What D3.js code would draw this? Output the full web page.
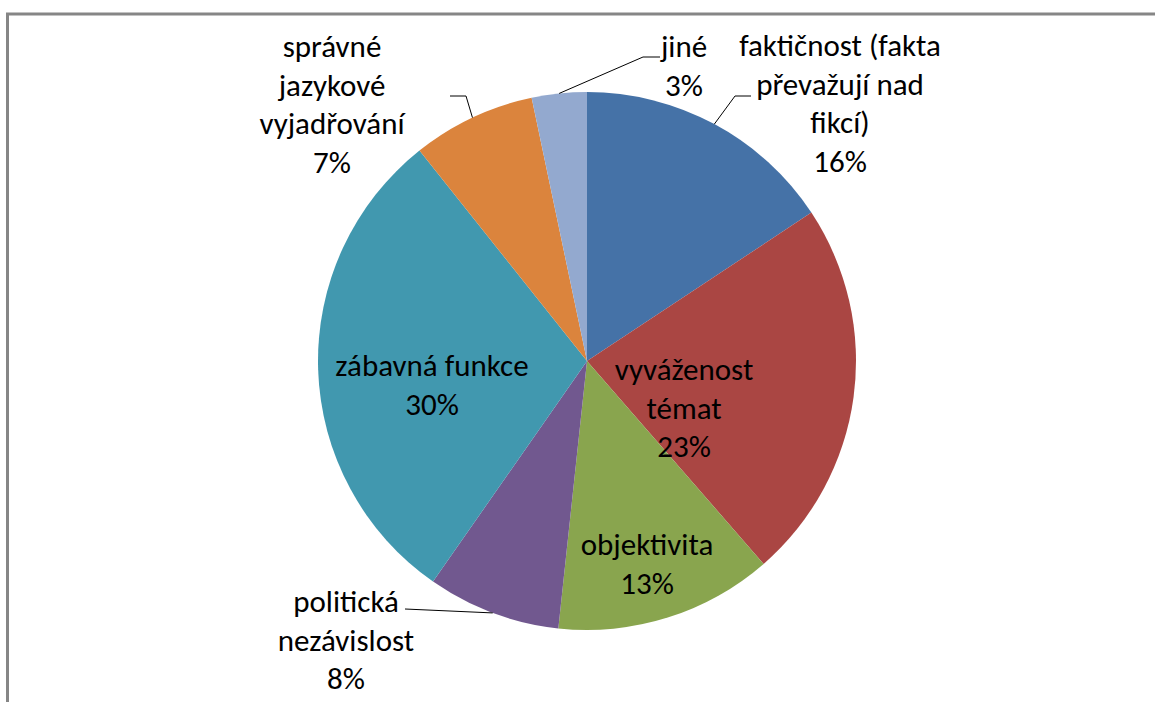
<!DOCTYPE html>
<html>
<head>
<meta charset="utf-8">
<script src="https://cdn.jsdelivr.net/npm/d3@7/dist/d3.min.js"></script>
<style>
  html, body { margin: 0; padding: 0; background: #fff; }
  svg { display: block; }
</style>
</head>
<body>
<svg id="chart" width="1155" height="702"></svg>
<script>
// ---- data ----
const categories = [
  "faktičnost (fakta převažují nad fikcí)",
  "vyváženost témat",
  "objektivita",
  "politická nezávislost",
  "zábavná funkce",
  "správné jazykové vyjadřování",
  "jiné"
];
const values = [15.7, 22.9, 13.1, 8.0, 29.6, 7.4, 3.3];
const colors = ["#4572A7", "#AA4643", "#89A54E", "#71588F", "#4198AF", "#DB843D", "#93A9CF"];
const labelLines = [
  ["faktičnost (fakta", "převažují nad", "fikcí)"],
  ["vyváženost", "témat"],
  ["objektivita"],
  ["politická", "nezávislost"],
  ["zábavná funkce"],
  ["správné", "jazykové", "vyjadřování"],
  ["jiné"]
];

// ---- layout (positions only) ----
const W = 1155, H = 702;
const cx = 587, cy = 361, R = 269;
const lineH = 38.5;
const labelPos = [
  { x: 840, y: 56,  leader: [[735, 96], [751, 96]] },
  { x: 684, y: 380 },
  { x: 647, y: 555 },
  { x: 346, y: 612, leader: [[405, 609]] },
  { x: 432, y: 376 },
  { x: 332, y: 57,  leader: [[466, 96], [450, 96]] },
  { x: 684, y: 57,  leader: [[643, 57], [660, 57]] }
];

const svg = d3.select("#chart");

// frame
svg.append("path")
  .attr("d", `M7.5,${H} L7.5,14 L${W},14`)
  .attr("fill", "none")
  .attr("stroke", "#868686")
  .attr("stroke-width", 3);

const data = categories.map((c, i) => ({ name: c, value: values[i], i }));
const total = d3.sum(values);
const pie = d3.pie().value(d => d.value).sort(null);
const arcs = pie(data);
const arc = d3.arc().innerRadius(0).outerRadius(R);

const g = svg.append("g").attr("transform", `translate(${cx},${cy})`);
g.selectAll("path.slice")
  .data(arcs)
  .join("path")
  .attr("class", "slice")
  .attr("d", arc)
  .attr("fill", d => colors[d.data.i]);

// leader lines
arcs.forEach(a => {
  const lp = labelPos[a.data.i];
  if (!lp.leader) return;
  const mid = (a.startAngle + a.endAngle) / 2;
  const sx = cx + R * Math.sin(mid);
  const sy = cy - R * Math.cos(mid);
  const pts = [[sx, sy]].concat(lp.leader);
  svg.append("path")
    .attr("d", d3.line()(pts))
    .attr("fill", "none")
    .attr("stroke", "#000")
    .attr("stroke-width", 1);
});

// labels
const fmt = v => Math.round(v / total * 100) + "%";
arcs.forEach(a => {
  const i = a.data.i;
  const lp = labelPos[i];
  const lines = labelLines[i].concat([fmt(a.data.value)]);
  const t = svg.append("text")
    .attr("x", lp.x)
    .attr("y", lp.y)
    .attr("text-anchor", "middle")
    .attr("font-family", "Carlito, Lato, 'Open Sans', sans-serif")
    .attr("font-size", 31)
    .attr("fill", "#000");
  lines.forEach((l, k) => {
    t.append("tspan")
      .attr("x", lp.x)
      .attr("y", lp.y + k * lineH)
      .text(l);
  });
});
</script>
</body>
</html>
